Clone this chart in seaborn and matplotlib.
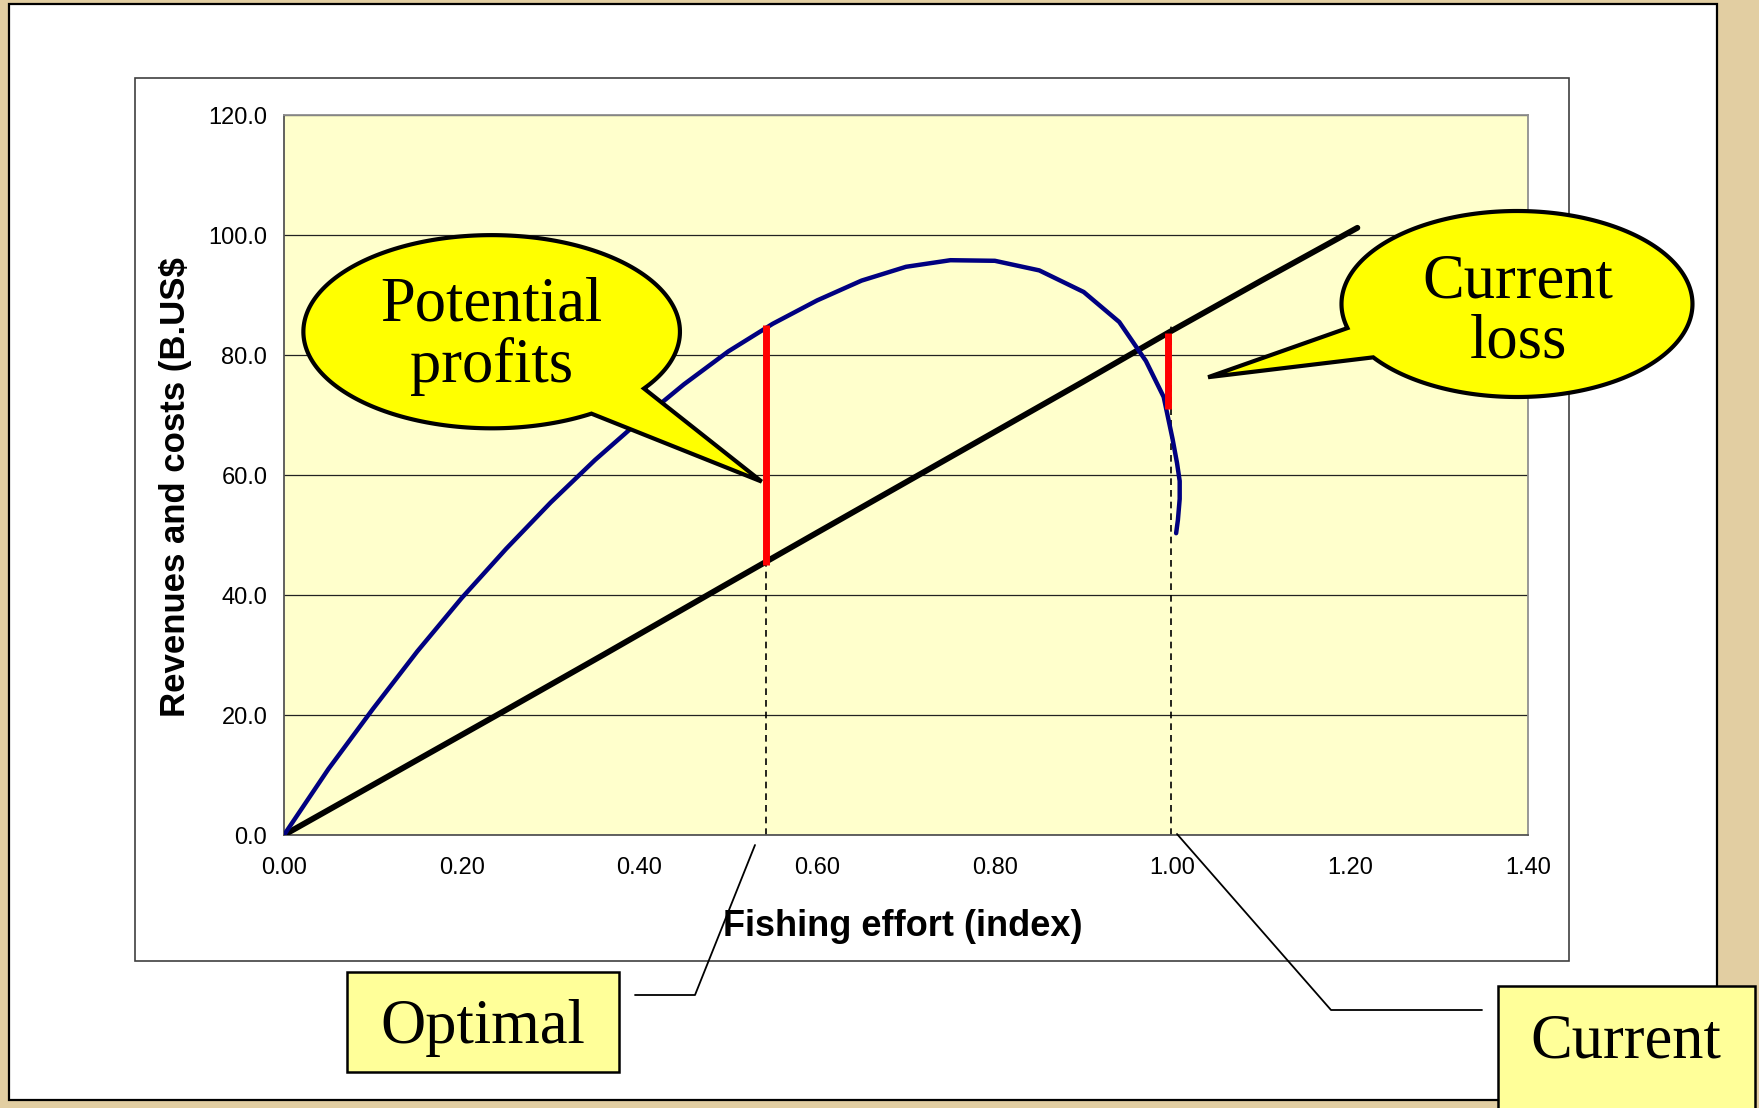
import numpy as np
import matplotlib
matplotlib.use('Agg')
import matplotlib.pyplot as plt
import pandas as pd
import seaborn as sns
from matplotlib.patches import Rectangle, Polygon

# revenue curve (effort index, B.US$)
effort_rev = [0.0, 0.05, 0.10, 0.15, 0.20, 0.25, 0.30, 0.35, 0.40, 0.45,
              0.50, 0.55, 0.60, 0.65, 0.70, 0.75, 0.80, 0.85, 0.90, 0.94,
              0.97, 0.99, 1.000, 1.005, 1.008, 1.008, 1.006, 1.004]
revenue = [0.0, 11.0, 21.0, 30.6, 39.5, 47.7, 55.4, 62.5, 69.0, 75.1,
           80.6, 85.2, 89.1, 92.4, 94.7, 95.8, 95.7, 94.1, 90.5, 85.5,
           79.0, 73.0, 66.0, 62.0, 59.0, 56.0, 52.5, 50.3]

# cost line
effort_cost = [0.0, 0.078, 0.157, 0.247, 0.359, 0.491, 0.60, 0.75, 0.90, 0.995, 1.10, 1.208]
cost = [0.0, 6.5, 13.1, 20.6, 30.0, 41.2, 50.4, 63.0, 75.6, 83.7, 92.4, 101.2]

x_ticks = [0.0, 0.2, 0.4, 0.6, 0.8, 1.0, 1.2, 1.4]
x_tick_labels = ['0.00', '0.20', '0.40', '0.60', '0.80', '1.00', '1.20', '1.40']
y_ticks = [0, 20, 40, 60, 80, 100, 120]
y_tick_labels = ['0.0', '20.0', '40.0', '60.0', '80.0', '100.0', '120.0']

optimal_effort = 0.542
optimal_gap = [45.0, 85.0]
current_effort = 0.995
current_gap = [71.0, 83.7]

sns.set_style('white')
plt.rcParams['font.family'] = ['Liberation Sans', 'DejaVu Sans']
plt.rcParams['text.color'] = 'black'
plt.rcParams['axes.labelcolor'] = 'black'
SERIF = ['Liberation Serif', 'DejaVu Serif']

W, H = 1759, 1108
fig = plt.figure(figsize=(W / 100, H / 100), dpi=100)
fig.patch.set_facecolor('#E2CEA2')


def px_box(l, t, r, b):
    return [l / W, 1 - b / H, (r - l) / W, (b - t) / H]


# slide panel and chart frame
bg = fig.add_axes([0, 0, 1, 1], zorder=-10)
bg.set_xlim(0, W)
bg.set_ylim(H, 0)
bg.axis('off')
bg.add_patch(Rectangle((9, 4), 1708, 1096, fc='white', ec='black', lw=1.6))
bg.add_patch(Rectangle((135, 78), 1434, 883, fc='white', ec='#404040', lw=1.2))

ax = fig.add_axes(px_box(284, 115, 1528, 835))
ax.set_facecolor('#FFFFCC')

rev_df = pd.DataFrame({'effort': effort_rev, 'value': revenue})
cost_df = pd.DataFrame({'effort': effort_cost, 'value': cost})
sns.lineplot(data=cost_df, x='effort', y='value', sort=False, estimator=None,
             color='black', lw=4.2, ax=ax, zorder=3)
sns.lineplot(data=rev_df, x='effort', y='value', sort=False, estimator=None,
             color='#000080', lw=3.2, ax=ax, zorder=4)

# dashed drop lines and profit / loss gaps
ax.vlines(optimal_effort, 0, optimal_gap[0], colors='black', linestyles=(0, (4, 3)), lw=1.2, zorder=2)
ax.vlines(current_effort + 0.003, 0, current_gap[1] + 1.5, colors='black', linestyles=(0, (4, 3)), lw=1.2, zorder=2)
ax.vlines(optimal_effort, optimal_gap[0], optimal_gap[1], colors='#FF0000', lw=5, zorder=5)
ax.vlines(current_effort, current_gap[0], current_gap[1], colors='#FF0000', lw=5, zorder=5)

ax.set_xlim(0, 1.4)
ax.set_ylim(0, 120)
ax.set_xticks(x_ticks)
ax.set_xticklabels(x_tick_labels)
ax.set_yticks(y_ticks)
ax.set_yticklabels(y_tick_labels)
ax.yaxis.grid(True, color='#222222', lw=0.9)
ax.xaxis.grid(False)
ax.set_axisbelow(True)
for side in ['top', 'right']:
    ax.spines[side].set_color('#909090')
    ax.spines[side].set_linewidth(1.3)
for side in ['left', 'bottom']:
    ax.spines[side].set_color('#555555')
    ax.spines[side].set_linewidth(1.3)
ax.tick_params(axis='both', direction='out', length=5, width=1, color='#555555',
               labelsize=17, labelcolor='black')
ax.tick_params(axis='y', pad=7)
ax.tick_params(axis='x', pad=11)

ax.set_xlabel('Fishing effort (index)', fontsize=26, fontweight='bold')
ax.xaxis.set_label_coords(0.4976, -0.103)
ax.set_ylabel(r'Revenues and costs (B.US\$', fontsize=25, fontweight='bold')
ax.yaxis.set_label_coords(-0.074, 0.4826)


def callout(cx, cy, rx, ry, a1, a2, tip):
    t = np.radians(np.linspace(a2, a1 + 360, 240))
    verts = list(zip(cx + rx * np.cos(t), cy + ry * np.sin(t))) + [tip]
    ax.add_patch(Polygon(verts, closed=True, fc='#FFFF00', ec='black', lw=3,
                         joinstyle='miter', clip_on=False, zorder=6))


callout(0.2337, 83.88, 0.2119, 16.1, -58, -36, (0.5376, 58.9))
ax.text(0.2337, 85.8, 'Potential', family=SERIF, fontsize=45, ha='center', va='baseline', zorder=7)
ax.text(0.2337, 75.5, 'profits', family=SERIF, fontsize=45, ha='center', va='baseline', zorder=7)

callout(1.3876, 88.5, 0.1975, 15.5, 195, 215, (1.040, 76.3))
ax.text(1.3887, 89.6, 'Current', family=SERIF, fontsize=45, ha='center', va='baseline',
        zorder=7, clip_on=False)
ax.text(1.3887, 79.5, 'loss', family=SERIF, fontsize=45, ha='center', va='baseline',
        zorder=7, clip_on=False)

# labelled boxes below the chart
top = fig.add_axes([0, 0, 1, 1], zorder=10)
top.set_xlim(0, W)
top.set_ylim(H, 0)
top.axis('off')
top.patch.set_visible(False)

top.add_patch(Rectangle((347, 972), 272, 100, fc='#FFFF99', ec='black', lw=1.8))
top.text(482.6, 1043, 'Optimal', family=SERIF, fontsize=45, ha='center', va='baseline')
top.plot([635, 695, 755], [995, 995, 845], color='black', lw=1.3)

top.add_patch(Rectangle((1498, 986), 257, 140, fc='#FFFF99', ec='black', lw=1.8))
top.text(1626, 1057, 'Current', family=SERIF, fontsize=45, ha='center', va='baseline')
top.plot([1482, 1331, 1177], [1010, 1010, 834], color='black', lw=1.3)

fig.savefig('out.png', dpi=100, facecolor=fig.get_facecolor())
